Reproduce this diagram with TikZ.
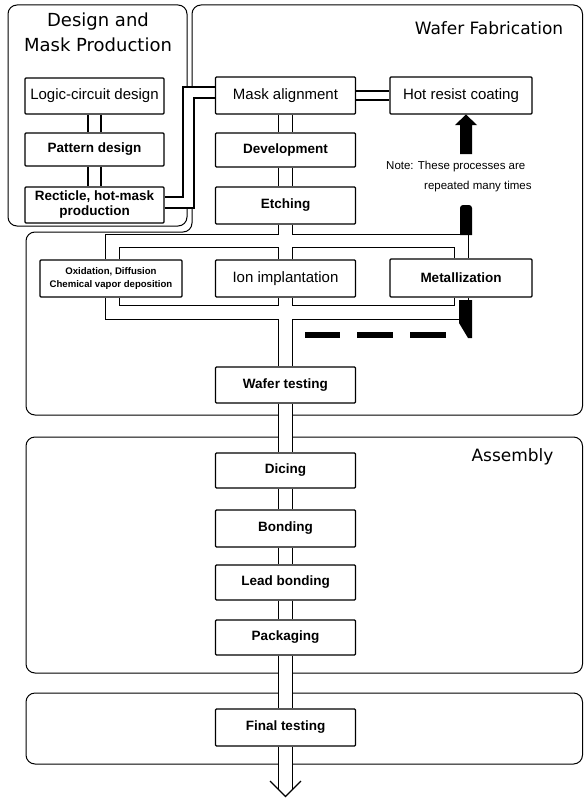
\documentclass[tikz,border=0pt]{standalone}
\usepackage{fontspec}
\setmainfont{Liberation Sans}
\newfontfamily\titlefont{DejaVu Sans}
\newcommand\lblbold{\bfseries\fontsize{13.5}{15}\selectfont}
\newcommand\lblplain{\fontsize{15}{17}\selectfont}
\newcommand\lblsmall{\bfseries\fontsize{9.6}{13}\selectfont}
\newcommand\lblnote{\fontsize{11.5}{13}\selectfont}
\begin{document}
\begin{tikzpicture}[x=1pt,y=-1pt,
  panel/.style={draw, line width=1pt, rounded corners=9pt},
  wall/.style={draw, line width=1.2pt},
  box/.style={draw, fill=white, line width=1.3pt, rounded corners=1pt,
    minimum width=140pt, minimum height=36pt, inner sep=0pt,
    align=center, font=\lblbold},
  title/.style={font=\titlefont\fontsize{17}{20}\selectfont},
  note/.style={font=\lblnote, anchor=west, inner sep=0pt}]
\useasboundingbox (0,0) rectangle (584,800);

% process steps
\node[box, minimum width=139pt, font=\lblplain] (logic) at (94.5,96) {Logic-circuit design};
\node[box, minimum width=139pt, minimum height=33pt] (pattern) at (94.5,149.5) {Pattern design};
\node[box, minimum width=139pt] (reticle) at (94.5,205) {Recticle, hot-mask\\production};
\node[box, minimum height=37pt, font=\lblplain] (mask) at (285.5,95.5) {Mask alignment};
\node[box, minimum width=142pt, minimum height=37pt, font=\lblplain] (hot) at (461,95.5) {Hot resist coating};
\node[box, minimum height=34pt] (dev) at (285.5,150) {Development};
\node[box, minimum height=37pt] (etch) at (285.5,205.5) {Etching};
\node[box, minimum width=142pt, minimum height=37pt, font=\lblsmall] (oxid) at (111,278.5) {Oxidation, Diffusion\\Chemical vapor deposition};
\node[box, minimum height=37pt, font=\lblplain] (ion) at (285.5,278.5) {Ion implantation};
\node[box, minimum width=142pt, minimum height=38pt] (metal) at (461,278) {Metallization};
\node[box] (wtest) at (285.5,385) {Wafer testing};
\node[box, minimum height=35pt] (dice) at (285.5,470.5) {Dicing};
\node[box, minimum height=37pt] (bond) at (285.5,528.5) {Bonding};
\node[box, minimum height=35pt] (lead) at (285.5,582.5) {Lead bonding};
\node[box, minimum height=35pt] (pack) at (285.5,637.5) {Packaging};
\node[box, minimum height=37pt] (final) at (285.5,727.5) {Final testing};
\coordinate (outlet) at (285.5,789.5);

% panel titles and note
\node[font=\titlefont\fontsize{18}{25}\selectfont, align=center] (designtitle) at (98,32) {Design and\\Mask Production};
\node[title] (waftitle) at (489,28) {Wafer Fabrication};
\node[title] (asmtitle) at (512.5,457) {Assembly};
\node[note] (note1) at (386,167) {Note: These processes are};
\node[note] (note2) at (424,187) {repeated many times};

% panels, left open where the pipes pass through
\draw[panel] (187,87) -- (187,5) -- (8,5) -- (8,226) -- (187,226) -- (187,208);
\draw[panel] (192,87) -- (192,5) -- (582.5,5) -- (582.5,415) -- (292.5,415);
\draw[panel] (278.5,415) -- (26,415) -- (26,232) -- (192,232) -- (192,208);
\draw[panel] (278.5,437) -- (26,437) -- (26,673) -- (278.5,673);
\draw[panel] (292.5,673) -- (582.5,673) -- (582.5,437) -- (292.5,437);
\draw[panel] (278.5,693) -- (26,693) -- (26,764) -- (278.5,764);
\draw[panel] (292.5,764) -- (582.5,764) -- (582.5,693) -- (292.5,693);

% design pipes
\foreach \a/\b in {logic/pattern, pattern/reticle} {
  \draw[wall] ([xshift=-6.5pt]\a.south) -- ([xshift=-6.5pt]\b.north);
  \draw[wall] ([xshift=6.5pt]\a.south) -- ([xshift=6.5pt]\b.north);
}
\draw[wall] (reticle.east |- 0,197) -- (183,197) -- (183,87) -- (mask.west |- 0,87);
\draw[wall] (reticle.east |- 0,208) -- (194,208) -- (194,98) -- (mask.west |- 0,98);

% mask alignment to coating
\draw[wall] (mask.east |- 0,91) -- (hot.west |- 0,91);
\draw[wall] (mask.east |- 0,100) -- (hot.west |- 0,100);

% straight links of the main line
\foreach \a/\b in {mask/dev, dev/etch, wtest/dice, dice/bond, bond/lead, lead/pack, pack/final} {
  \draw[wall] ([xshift=-7pt]\a.south) -- ([xshift=-7pt]\b.north);
  \draw[wall] ([xshift=7pt]\a.south) -- ([xshift=7pt]\b.north);
}
\draw[wall] ([xshift=-7pt]final.south) -- ([xshift=-7pt]outlet);
\draw[wall] ([xshift=7pt]final.south) -- ([xshift=7pt]outlet);

% distribution loop round oxidation, ion implantation and metallization
\draw[wall] ([xshift=-7pt]etch.south) -- (278.5,234.5) -- (105.5,234.5) -- (105.5,0 |- oxid.north);
\draw[wall] ([xshift=7pt]etch.south) -- (292.5,234.5) -- (468.5,234.5) -- (468.5,0 |- metal.north);
\draw[wall] (119.5,0 |- oxid.north) -- (119.5,247.5) -- (278.5,247.5) -- ([xshift=-7pt]ion.north);
\draw[wall] ([xshift=7pt]ion.north) -- (292.5,247.5) -- (454.5,247.5) -- (454.5,0 |- metal.north);
\draw[wall] (119.5,0 |- oxid.south) -- (119.5,305.5) -- (278.5,305.5) -- ([xshift=-7pt]ion.south);
\draw[wall] ([xshift=7pt]ion.south) -- (292.5,305.5) -- (454.5,305.5) -- (454.5,0 |- metal.south);
\draw[wall] (105.5,0 |- oxid.south) -- (105.5,319.5) -- (278.5,319.5) -- ([xshift=-7pt]wtest.north);
\draw[wall] ([xshift=7pt]wtest.north) -- (292.5,319.5) -- (468.5,319.5) -- (468.5,0 |- metal.south);

% outlet arrowhead
\draw[line width=1.2pt] ([xshift=-15.5pt, yshift=8.5pt]outlet) -- ([yshift=-7pt]outlet) -- ([xshift=15.5pt, yshift=8.5pt]outlet);

% repeat path: return bar, dashed return and arrow to coating
\fill (460,154) -- (460,125) -- (455,125) -- (466,114.5) -- (477,125) -- (472,125) -- (472,154) -- cycle;
\fill[rounded corners=3pt] (460,235) -- (460,205) -- (472,205) [sharp corners] -- (472,235) -- cycle;
\fill (459,300) -- (472,300) -- (472,338) -- (468,338) -- (459,323) -- cycle;
\fill (305,331.5) rectangle (340,338);
\fill (357,331.5) rectangle (393,338);
\fill (410,331.5) rectangle (446,338);
\end{tikzpicture}
\end{document}
